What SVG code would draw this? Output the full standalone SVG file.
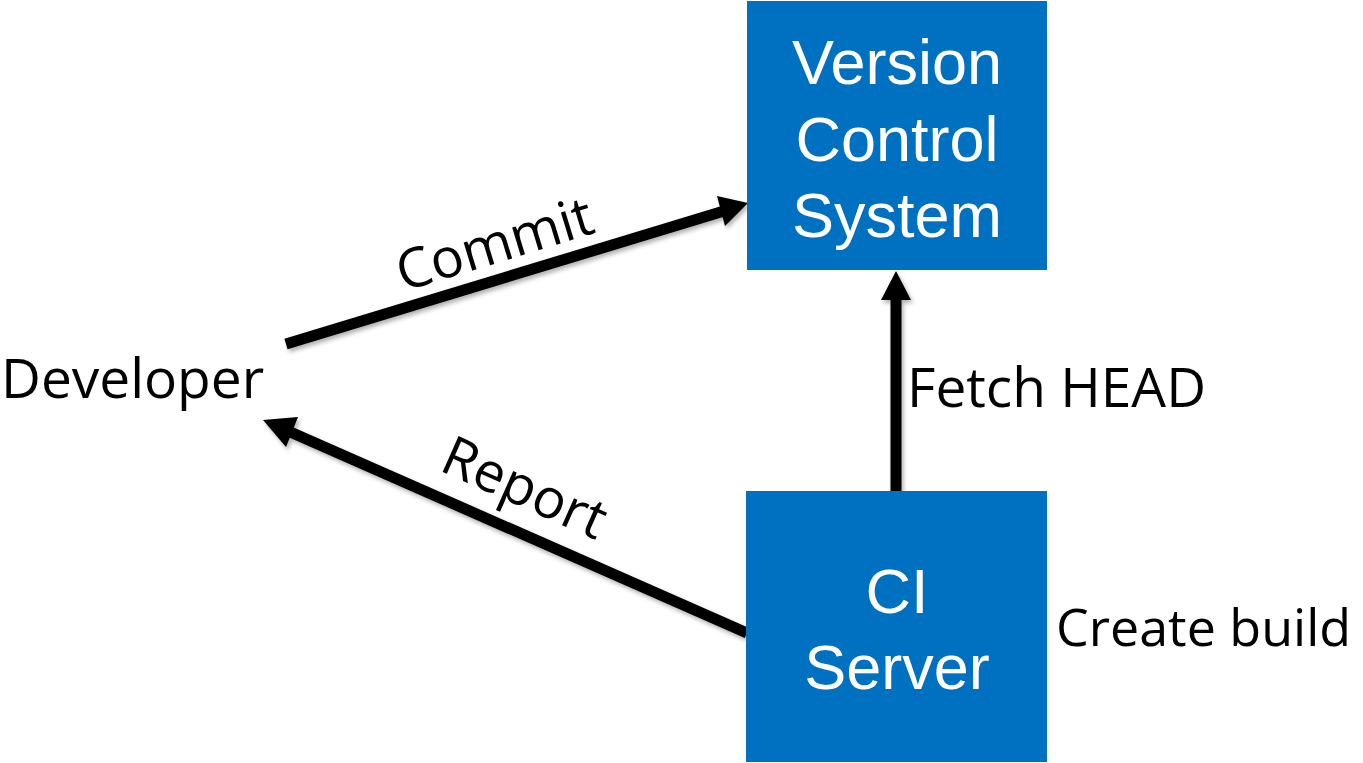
<svg xmlns="http://www.w3.org/2000/svg" width="1363" height="763" viewBox="0 0 1363 763">
  <style>
    .box { fill: #0070C0; }
    .boxtext { font-family: "Liberation Sans", Arial, sans-serif; font-size: 63px; fill: #ffffff; text-anchor: middle; }
    .label { font-family: "Open Sans", "Liberation Sans", sans-serif; font-size: 55px; fill: #000000; }
    .label.small { font-size: 52px; }
    .edge { stroke: #000000; stroke-width: 11; fill: none; }
    .head { fill: #000000; }
  </style>
  <defs>
    <filter id="shadow" x="-10%" y="-10%" width="120%" height="130%">
      <feDropShadow dx="2" dy="3" stdDeviation="2" flood-color="#000000" flood-opacity="0.3"/>
    </filter>
  </defs>

  <!-- connectors -->
  <g id="connectors" filter="url(#shadow)">
    <!-- Developer to VCS: commit -->
    <line class="edge" x1="286" y1="344" x2="724" y2="211"/>
    <polygon class="head" points="748,203 717,196 725,226"/>
    <!-- CI server to Developer: report -->
    <line class="edge" x1="747" y1="633" x2="288" y2="431"/>
    <polygon class="head" points="263,420 298,417 286,447"/>
    <!-- CI server to VCS: fetch -->
    <line class="edge" x1="896" y1="491" x2="896" y2="298"/>
    <polygon class="head" points="896,271 881,300 911,300"/>
  </g>

  <!-- connector labels -->
  <text class="label" text-anchor="middle" transform="translate(500,262) rotate(-17)">Commit</text>
  <text class="label" text-anchor="middle" transform="translate(517,505) rotate(24)">Report</text>
  <text class="label" x="907" y="407">Fetch HEAD</text>

  <g id="developer">
    <text class="label" x="1" y="398">Developer</text>
  </g>

  <g id="vcs">
    <rect class="box" x="747" y="1" width="300" height="269"/>
    <text class="boxtext" x="897" y="84">Version</text>
    <text class="boxtext" x="897" y="161">Control</text>
    <text class="boxtext" x="897" y="237">System</text>
  </g>

  <g id="ci-server">
    <rect class="box" x="746" y="491" width="301" height="271"/>
    <text class="boxtext" x="897" y="613">CI</text>
    <text class="boxtext" x="897" y="689">Server</text>
    <text class="label small" x="1056" y="646">Create build</text>
  </g>
</svg>
